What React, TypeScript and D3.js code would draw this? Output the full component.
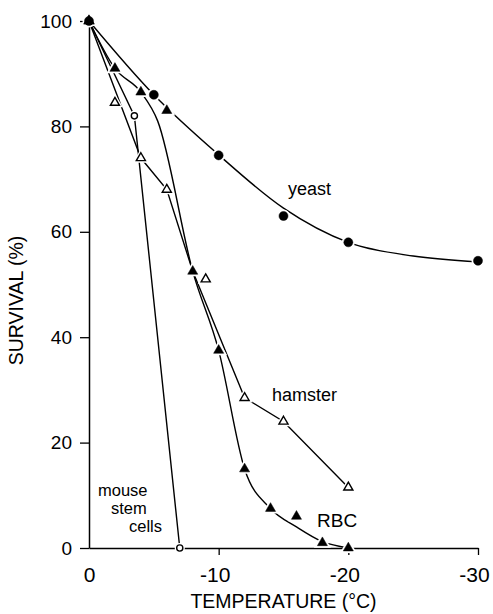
import React, { useEffect, useRef } from "react";
import * as d3 from "d3";

// survival (%) after freezing to each temperature (°C)
const yeastTemp = [0, -5, -10, -15, -20, -30];
const yeastSurvival = [100, 86, 74.5, 63, 58, 54.5];
const yeastCurveTemp = [0, -5, -10, -15, -20, -25, -30];
const yeastCurveSurvival = [100, 86, 74.6, 64.5, 58, 55.4, 54.3];

const rbcTemp = [0, -2, -4, -6, -8, -10, -12, -14, -16, -18, -20];
const rbcSurvival = [100, 91, 86.5, 83, 52.5, 37.5, 15, 7.5, 6, 1, 0];
const rbcCurveTemp = [0, -2, -4, -5.3, -8, -10, -12, -14, -16, -18, -20];
const rbcCurveSurvival = [100, 91, 86.5, 81, 52.5, 37.5, 15, 7.5, 4, 1.2, 0];

const hamsterTemp = [0, -2, -4, -6, -9, -12, -15, -20];
const hamsterSurvival = [100, 84.5, 74, 68, 51, 28.5, 24, 11.5];
const hamsterCurveTemp = [0, -4, -6, -8, -12, -15, -20];
const hamsterCurveSurvival = [100, 74, 68, 52.5, 28.5, 24, 11.5];

const mouseTemp = [0, -3.5, -7];
const mouseSurvival = [100, 82, 0];

const xTicks = [0, -10, -20, -30];
const xTickLabels = ["0", "-10", "-20", "-30"];
const yTicks = [0, 20, 40, 60, 80, 100];

const FONT = "'Liberation Sans', Arial, Helvetica, sans-serif";
const W = 493;
const H = 614;

const x = d3.scaleLinear().domain([0, -30]).range([89, 478]);
const y = d3.scaleLinear().domain([0, 100]).range([548, 21]);

const zip = (t: number[], s: number[]) => t.map((v, i) => [v, s[i]] as [number, number]);

const smooth = d3
  .line<[number, number]>()
  .x((d) => x(d[0]))
  .y((d) => y(d[1]))
  .curve(d3.curveMonotoneX);
const straight = d3
  .line<[number, number]>()
  .x((d) => x(d[0]))
  .y((d) => y(d[1]));

const filledCircle = d3.symbol(d3.symbolCircle, 64)();
const openCircle = d3.symbol(d3.symbolCircle, 30)();
const filledTri = d3.symbol(d3.symbolTriangle, 44)();
const openTri = d3.symbol(d3.symbolTriangle, 36)();

const series = [
  { pts: zip(yeastTemp, yeastSurvival), sym: filledCircle, filled: true },
  { pts: zip(hamsterTemp, hamsterSurvival), sym: openTri, filled: false },
  { pts: zip(mouseTemp, mouseSurvival), sym: openCircle, filled: false },
  { pts: zip(rbcTemp, rbcSurvival), sym: filledTri, filled: true },
];

export default function App() {
  const xAxisRef = useRef<SVGGElement>(null);
  const yAxisRef = useRef<SVGGElement>(null);

  useEffect(() => {
    const gx = d3.select(xAxisRef.current);
    gx.call(
      d3
        .axisBottom(x)
        .tickValues(xTicks)
        .tickFormat((d, i) => xTickLabels[i])
        .tickSize(7)
        .tickPadding(12)
        .tickSizeOuter(0)
    );
    gx.select(".domain").attr("stroke-width", 1.5);
    gx.selectAll(".tick line").attr("stroke-width", 1.3).attr("opacity", (d) => (d === 0 ? 0 : 1));
    gx.selectAll(".tick text")
      .attr("font-family", FONT)
      .attr("font-size", 21)
      .attr("dx", (d) => (d === 0 ? 0 : -4));

    const gy = d3.select(yAxisRef.current);
    gy.call(d3.axisLeft(y).tickValues(yTicks).tickSize(9).tickPadding(8).tickSizeOuter(0));
    gy.select(".domain").attr("stroke-width", 1.5);
    gy.selectAll(".tick line").attr("stroke-width", 1.3);
    gy.selectAll(".tick text").attr("font-family", FONT).attr("font-size", 19);
  }, []);

  return (
    <svg
      width={W}
      height={H}
      style={{ position: "absolute", left: 0, top: 0, background: "#fff" }}
      fontFamily={FONT}
    >
      <g ref={xAxisRef} transform={`translate(0,${y(0)})`} />
      <g ref={yAxisRef} transform={`translate(${x(0)},0)`} />

      <g fill="none" stroke="#000" strokeWidth={1.4}>
        <path d={smooth(zip(yeastCurveTemp, yeastCurveSurvival)) || ""} />
        <path d={smooth(zip(rbcCurveTemp, rbcCurveSurvival)) || ""} />
        <path d={straight(zip(hamsterCurveTemp, hamsterCurveSurvival)) || ""} />
        <path d={straight(zip(mouseTemp, mouseSurvival)) || ""} />
      </g>

      {/* white halos give the small gaps where lines meet markers */}
      {series.map((s, si) =>
        s.pts.map((p, i) => (
          <path
            key={`h${si}-${i}`}
            d={s.sym || ""}
            transform={`translate(${x(p[0])},${y(p[1])})`}
            fill="#fff"
            stroke="#fff"
            strokeWidth={4}
          />
        ))
      )}
      {series.map((s, si) =>
        s.pts.map((p, i) => (
          <path
            key={`m${si}-${i}`}
            d={s.sym || ""}
            transform={`translate(${x(p[0])},${y(p[1])})`}
            fill={s.filled ? "#000" : "#fff"}
            stroke="#000"
            strokeWidth={s.filled ? 0.5 : 1.4}
          />
        ))
      )}

      <g fontSize={18} fill="#000">
        <text x={288} y={195}>yeast</text>
        <text x={272} y={401}>hamster</text>
        <text x={317} y={527} fontSize={19}>RBC</text>
      </g>
      <g fontSize={16.5} fill="#000">
        <text x={98} y={496}>mouse</text>
        <text x={111} y={514}>stem</text>
        <text x={129} y={532}>cells</text>
      </g>

      <text x={(x(0) + x(-30)) / 2} y={608} textAnchor="middle" fontSize={19.5}>
        TEMPERATURE (°C)
      </text>
      <text transform={`translate(23,${(y(0) + y(100)) / 2 + 16}) rotate(-90)`} textAnchor="middle" fontSize={19.5}>
        SURVIVAL (%)
      </text>
    </svg>
  );
}
